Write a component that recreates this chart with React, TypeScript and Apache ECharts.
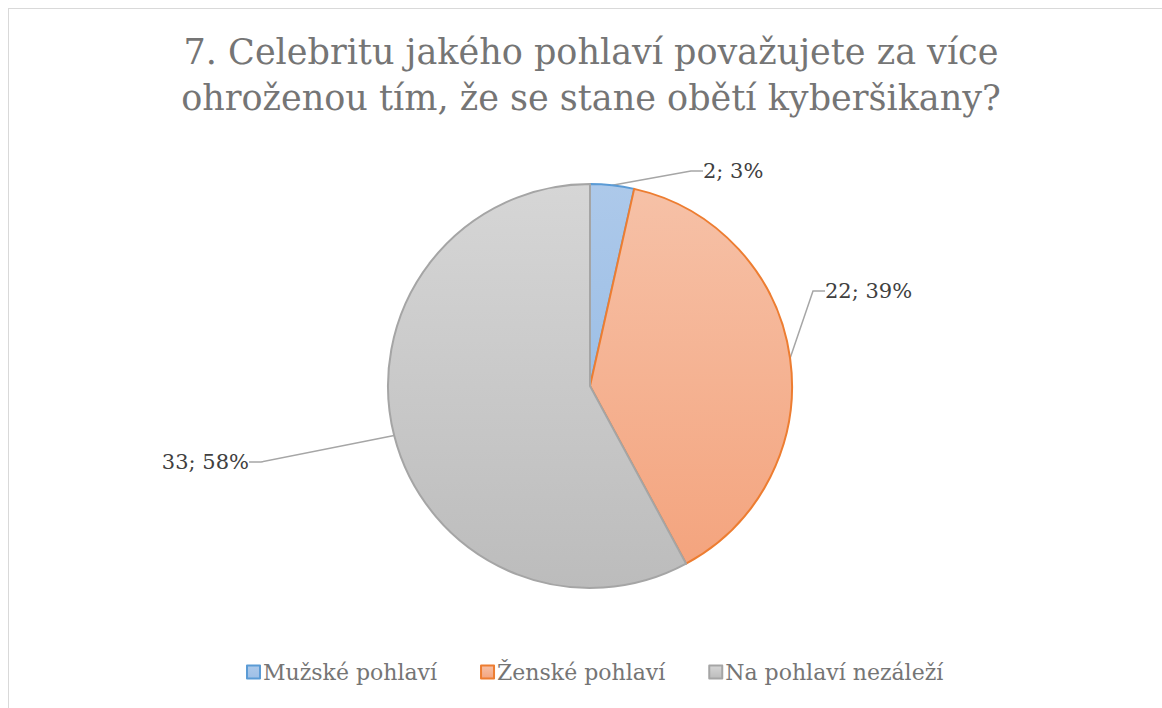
import React, { useEffect, useRef } from "react";
import * as echarts from "echarts";

const titleLines = [
  "7. Celebritu jakého pohlaví považujete za více",
  "ohroženou tím, že se stane obětí kyberšikany?",
];
const categories = ["Mužské pohlaví", "Ženské pohlaví", "Na pohlaví nezáleží"];
const values = [2, 22, 33];

const fills = [
  ["#adc9ea", "#9dbfe6"],
  ["#f6c1a7", "#f4a47e"],
  ["#d6d6d6", "#bcbcbc"],
];
const borders = ["#5b9bd5", "#ed7d31", "#a5a5a5"];
// label anchor positions (chart-local px) and alignment
const labelPos = [
  { x: 694, y: 162, align: "left" },
  { x: 816, y: 282, align: "left" },
  { x: 240, y: 453, align: "right" },
];

const SERIF = "'DejaVu Serif', 'Liberation Serif', serif";

export default function App() {
  const ref = useRef<HTMLDivElement>(null);
  useEffect(() => {
    const chart = echarts.init(ref.current!, null, { renderer: "svg" });
    const data = categories.map((name, i) => ({
      name,
      value: values[i],
      itemStyle: {
        color: new echarts.graphic.LinearGradient(0, 0, 0, 1, [
          { offset: 0, color: fills[i][0] },
          { offset: 1, color: fills[i][1] },
        ]),
        borderColor: borders[i],
        borderWidth: 2,
      },
    }));
    chart.setOption({
      animation: false,
      backgroundColor: "#ffffff",
      title: {
        text: titleLines.join("\n"),
        left: 577,
        textAlign: "center",
        top: 15,
        textStyle: {
          fontFamily: SERIF,
          fontSize: 35,
          fontWeight: "normal",
          color: "#757575",
          lineHeight: 46,
        },
      },
      legend: {
        data: categories,
        bottom: 20,
        left: 232,
        icon: "rect",
        itemWidth: 13,
        itemHeight: 13,
        itemGap: 43,
        textStyle: {
          fontFamily: SERIF,
          fontSize: 22,
          color: "#757575",
          padding: [0, 0, 0, -2],
        },
      },
      series: [
        {
          type: "pie",
          center: [581, 377],
          radius: 202,
          startAngle: 90,
          clockwise: true,
          percentPrecision: 0,
          data,
          label: {
            show: true,
            formatter: "{c}; {d}%",
            fontFamily: SERIF,
            fontSize: 21,
            color: "#404040",
          },
          labelLine: {
            show: true,
            length: 12,
            length2: 12,
            lineStyle: { color: "#a6a6a6", width: 1.5 },
          },
          labelLayout: (params: any) => {
            const p = labelPos[params.dataIndex];
            return {
              x: p.x,
              y: p.y,
              align: p.align,
              verticalAlign: "middle",
            };
          },
          emphasis: { disabled: true },
        },
      ],
    });
    return () => chart.dispose();
  }, []);
  return (
    <div
      style={{
        position: "fixed",
        left: 8,
        top: 8,
        width: 1154,
        height: 700,
        borderTop: "1px solid #d9d9d9",
        borderLeft: "1px solid #d9d9d9",
        boxSizing: "border-box",
        background: "#fff",
      }}
    >
      <div ref={ref} style={{ width: 1153, height: 699 }} />
    </div>
  );
}
